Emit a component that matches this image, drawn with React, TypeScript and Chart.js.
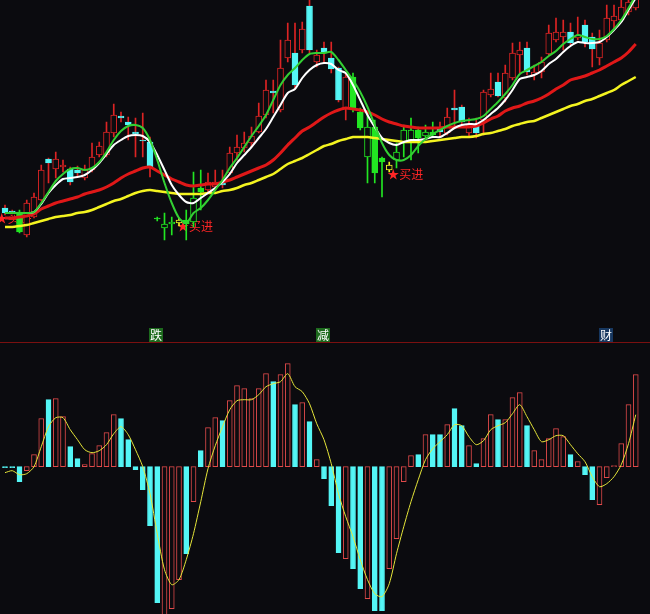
import React, { useEffect, useRef } from "react";
import { Chart, registerables } from "chart.js";

Chart.register(...registerables);

// ---------- data ----------
const days: string[] = Array.from({ length: 88 }, (_, i) => `D${i + 1}`);

const openP = [
  9.2, 8.9, 8.8, 6.5, 8.3, 10.0, 14.1, 13.1, 13.3, 13.1,
  13.0, 12.2, 13.0, 14.5, 14.5, 16.7, 18.4, 17.8, 16.8, 16.0,
  15.8, 8.2, 7.2, 7.6, 7.7, 8.0, 7.8, 11.2, 11.0, 11.3,
  11.7, 12.7, 14.7, 15.2, 15.7, 16.8, 18.5, 20.9, 19.0, 24.2,
  24.7, 25.0, 29.4, 23.8, 25.2, 24.2, 23.2, 19.2, 22.3, 18.8,
  14.3, 17.3, 14.2, 13.0, 14.0, 15.7, 16.0, 17.0, 16.4, 16.8,
  17.2, 16.7, 19.2, 19.3, 16.7, 17.4, 18.0, 20.5, 21.8, 20.2,
  22.2, 24.5, 25.2, 22.5, 22.8, 24.6, 26.0, 26.3, 26.8, 26.2,
  27.5, 26.3, 24.2, 26.0, 27.9, 28.0, 28.8, 29.2,
];
const closeP = [
  8.7, 8.8, 6.8, 9.7, 10.3, 13.0, 13.7, 14.1, 13.5, 11.8,
  12.7, 13.0, 14.3, 15.4, 16.8, 18.5, 18.2, 17.5, 16.6, 15.9,
  13.3, 8.1, 7.6, 7.8, 8.0, 7.6, 10.2, 10.8, 11.8, 11.8,
  11.5, 14.7, 15.3, 15.7, 16.4, 18.4, 21.0, 20.7, 23.2, 26.0,
  21.5, 27.1, 25.0, 24.5, 24.7, 23.1, 20.0, 22.3, 19.0, 17.2,
  17.3, 12.7, 13.8, 13.5, 14.8, 17.0, 17.0, 16.2, 16.8, 16.5,
  16.8, 18.3, 19.0, 17.8, 17.5, 16.7, 20.8, 21.1, 20.4, 22.7,
  24.7, 25.0, 22.8, 22.8, 23.8, 26.7, 26.8, 26.8, 25.7, 26.5,
  25.8, 25.1, 25.7, 28.2, 28.4, 29.3, 29.8, 30.8,
];
const highP = [
  9.5, 9.0, 9.0, 10.0, 10.7, 13.5, 14.2, 14.8, 14.0, 13.3,
  13.4, 13.5, 15.7, 15.8, 17.8, 19.6, 18.8, 18.3, 18.2, 18.7,
  16.3, 8.3, 8.7, 8.3, 8.2, 9.0, 12.8, 13.0, 12.7, 13.0,
  13.0, 15.3, 16.5, 16.8, 17.3, 19.7, 22.0, 22.0, 26.0, 27.7,
  27.7, 27.8, 30.0, 25.0, 25.8, 25.8, 23.3, 22.7, 22.7, 19.2,
  18.7, 18.0, 14.3, 13.8, 15.7, 17.5, 18.2, 17.3, 17.5, 17.8,
  17.8, 19.2, 21.0, 19.5, 18.2, 18.2, 21.0, 22.7, 22.7, 23.5,
  25.7, 25.8, 25.8, 23.5, 24.3, 27.5, 28.2, 28.0, 27.7, 28.3,
  28.0, 26.7, 27.0, 29.5, 29.5, 30.0, 30.5, 31.5,
];
const lowP = [
  8.5, 8.6, 6.7, 6.3, 8.2, 9.9, 11.7, 12.2, 12.8, 11.5,
  12.3, 12.0, 12.8, 14.3, 14.3, 16.3, 17.8, 16.0, 14.3, 14.3,
  12.3, 7.9, 6.0, 6.5, 7.4, 6.0, 7.3, 9.0, 10.7, 11.0,
  11.2, 12.5, 14.0, 14.8, 15.3, 16.7, 18.2, 18.7, 18.8, 23.8,
  21.2, 24.7, 24.7, 23.3, 23.7, 22.7, 19.8, 18.0, 18.8, 17.0,
  11.7, 11.7, 10.3, 12.8, 13.2, 14.3, 14.0, 14.7, 16.0, 16.3,
  16.3, 16.5, 17.3, 17.6, 16.4, 16.2, 16.5, 20.3, 20.3, 19.8,
  22.0, 22.7, 22.5, 22.0, 22.2, 24.5, 25.8, 25.0, 25.5, 26.0,
  25.3, 23.3, 23.5, 25.8, 27.0, 27.8, 28.5, 29.0,
];

const maWhite = [
  8.7, 8.7, 8.7, 8.7, 8.8, 9.6, 10.7, 11.5, 12.1, 12.2,
  12.3, 12.5, 13.0, 13.7, 14.6, 15.5, 16.0, 16.4, 16.5, 16.4,
  15.8, 14.5, 13.0, 11.5, 10.5, 9.8, 9.7, 10.2, 10.7, 11.2,
  11.8, 12.6, 13.7, 14.5, 15.3, 16.2, 17.1, 18.3, 19.5, 20.7,
  21.1, 22.2, 23.0, 23.5, 23.7, 23.6, 23.0, 22.7, 21.5, 20.0,
  18.5, 17.3, 16.2, 15.7, 15.5, 15.8, 16.0, 16.0, 16.1, 16.3,
  16.3, 16.7, 17.2, 17.5, 17.6, 17.6, 18.0, 18.6, 19.2, 20.0,
  21.0, 22.1, 22.3, 22.5, 22.9, 23.6, 24.1, 24.8, 25.4, 25.8,
  25.7, 25.7, 25.8, 26.3, 27.0, 27.8, 29.0, 30.2,
];
const maGreen = [
  8.7, 8.7, 8.7, 8.7, 8.8, 9.7, 10.8, 11.9, 12.6, 13.1,
  13.2, 13.0, 13.2, 13.8, 14.8, 16.0, 16.9, 17.4, 17.5, 17.2,
  16.0, 14.0, 11.7, 9.7, 8.2, 7.7, 8.7, 9.2, 10.0, 11.0,
  12.0, 13.2, 14.2, 15.3, 16.4, 17.4, 18.5, 20.0, 21.5, 22.5,
  23.2, 24.0, 24.6, 24.7, 24.7, 24.8, 24.0, 23.0, 22.0, 20.8,
  19.3, 17.5, 15.7, 14.5, 14.0, 14.0, 14.5, 15.4, 16.1, 16.6,
  17.0, 17.4, 17.7, 17.9, 18.0, 18.1, 18.4, 19.1, 19.8, 20.6,
  21.5, 22.6, 23.0, 23.4, 23.8, 24.4, 24.9, 25.6, 26.1, 26.5,
  26.3, 26.1, 26.1, 26.4, 27.1, 28.0, 29.2, 30.5,
];
const maRed = [
  8.2, 8.2, 8.3, 8.4, 8.6, 9.1, 9.4, 9.7, 9.9, 10.1,
  10.3, 10.6, 10.8, 11.0, 11.3, 11.7, 12.2, 12.6, 12.9, 13.2,
  13.3, 12.9, 12.5, 12.1, 11.8, 11.5, 11.4, 11.5, 11.6, 11.6,
  11.8, 12.0, 12.3, 12.6, 12.9, 13.2, 13.5, 14.0, 14.7, 15.5,
  16.2, 16.9, 17.3, 17.8, 18.3, 18.7, 19.0, 19.2, 19.1, 19.0,
  18.8, 18.5, 18.1, 17.8, 17.6, 17.4, 17.3, 17.2, 17.2, 17.2,
  17.2, 17.3, 17.3, 17.3, 17.3, 17.4, 17.7, 18.1, 18.4, 18.9,
  19.2, 19.4, 19.7, 19.9, 20.2, 20.6, 21.1, 21.5, 22.0, 22.2,
  22.4, 22.7, 23.0, 23.4, 23.8, 24.2, 24.8, 25.6,
];
const maYellow = [
  7.3, 7.3, 7.4, 7.5, 7.7, 7.9, 8.1, 8.3, 8.4, 8.5,
  8.7, 8.8, 9.0, 9.3, 9.6, 9.9, 10.1, 10.4, 10.7, 10.9,
  11.0, 10.9, 10.8, 10.7, 10.6, 10.6, 10.6, 10.6, 10.7, 10.7,
  10.9, 11.0, 11.2, 11.5, 11.7, 12.0, 12.3, 12.6, 13.1, 13.6,
  13.9, 14.2, 14.6, 15.0, 15.4, 15.6, 15.9, 16.1, 16.3, 16.3,
  16.3, 16.2, 16.1, 16.0, 15.9, 15.8, 15.8, 15.8, 15.8, 15.9,
  16.0, 16.1, 16.2, 16.3, 16.3, 16.4, 16.6, 16.7, 16.9, 17.1,
  17.4, 17.6, 17.8, 17.9, 18.2, 18.5, 18.8, 19.1, 19.4, 19.6,
  19.9, 20.1, 20.4, 20.7, 21.0, 21.5, 21.9, 22.3,
];

const oscBar = [
  -0.01, -0.01, -0.15, -0.04, 0.12, 0.48, 0.67, 0.68, 0.50, 0.20,
  0.08, 0.02, 0.13, 0.21, 0.34, 0.52, 0.48, 0.27, -0.03, -0.23,
  -0.59, -1.36, -1.50, -1.42, -1.13, -0.87, -0.35, 0.16, 0.39, 0.49,
  0.46, 0.66, 0.81, 0.78, 0.68, 0.78, 0.93, 0.85, 0.92, 1.03,
  0.62, 0.64, 0.45, 0.07, -0.12, -0.39, -0.86, -0.92, -1.02, -1.22,
  -1.32, -1.44, -1.44, -1.02, -0.72, -0.15, 0.11, 0.12, 0.32, 0.32,
  0.32, 0.42, 0.58, 0.41, 0.21, 0.03, 0.28, 0.52, 0.47, 0.47,
  0.69, 0.74, 0.41, 0.16, 0.07, 0.28, 0.38, 0.30, 0.12, 0.05,
  -0.08, -0.33, -0.38, -0.11, 0.01, 0.23, 0.62, 0.92,
];
const oscSignal = [
  -0.06, -0.04, -0.08, -0.07, 0.00, 0.20, 0.40, 0.49, 0.49, 0.37,
  0.27, 0.17, 0.14, 0.16, 0.22, 0.33, 0.40, 0.32, 0.17, 0.00,
  -0.27, -0.67, -1.03, -1.18, -1.13, -0.93, -0.67, -0.35, -0.02, 0.21,
  0.40, 0.57, 0.66, 0.67, 0.67, 0.72, 0.80, 0.83, 0.85, 0.93,
  0.80, 0.75, 0.63, 0.43, 0.27, 0.03, -0.27, -0.50, -0.70, -0.93,
  -1.13, -1.27, -1.30, -1.17, -0.87, -0.60, -0.35, -0.13, 0.07, 0.18,
  0.25, 0.32, 0.42, 0.41, 0.30, 0.22, 0.26, 0.37, 0.41, 0.44,
  0.53, 0.62, 0.50, 0.37, 0.25, 0.27, 0.31, 0.31, 0.22, 0.13,
  0.05, -0.10, -0.20, -0.17, -0.10, 0.02, 0.23, 0.52,
];

// candles painted in the "weak" zone (green) and buy-signal candles (yellow)
const greenZone = [2, 21, 22, 23, 25, 26, 27, 48, 49, 50, 51, 52, 54, 55, 56, 57, 58, 59];
const yellowZone = [24, 53];

// buy signals (bar index, price level of label); -1 = the day just before the window
const buyIdx = [-1, 24, 53];
const buyPrice = [8.2, 7.4, 12.6];

// event marks above the lower panel
const markIdx = [21, 44, 83];
const markText = ["跌", "减", "财"];
const markKind = ["g", "g", "b"];

// ---------- styles ----------
const BG = "#0b0b0f";
const RED = "#dc2424";
const CYAN = "#54f6f6";
const GREEN = "#22e622";
const YEL = "#f2f226";
const OSC_RED = "#e04a4a";

export default function App() {
  const ref = useRef<HTMLCanvasElement | null>(null);

  useEffect(() => {
    document.body.style.margin = "0";
    document.body.style.background = BG;
    const canvas = ref.current!;
    const up = openP.map((o, i) => closeP[i] >= o);
    const tone = days.map((_, i) =>
      yellowZone.includes(i) ? "Y" : greenZone.includes(i) ? "G" : "N"
    );
    const bodyBg = tone.map((t, i) =>
      t === "Y" ? BG : t === "G" ? (up[i] ? BG : GREEN) : up[i] ? BG : CYAN
    );
    const bodyBorder = tone.map((t, i) =>
      t === "Y" ? YEL : t === "G" ? GREEN : up[i] ? RED : CYAN
    );
    const wickColor = tone.map((t) => (t === "Y" ? YEL : t === "G" ? GREEN : RED));
    const oscBg = up.map((u) => (u ? BG : CYAN));
    const oscBorder = up.map((u) => (u ? OSC_RED : CYAN));

    const overlay = {
      id: "overlay",
      beforeDatasetsDraw(chart: any) {
        const { ctx, scales } = chart;
        const xs = scales.x;
        const ys = scales.y;
        ctx.save();
        // panel separator
        ctx.strokeStyle = "#7a1010";
        ctx.lineWidth = 1;
        ctx.beginPath();
        ctx.moveTo(0, 342.5);
        ctx.lineTo(chart.width, 342.5);
        ctx.stroke();
        // buy signals
        ctx.font = '12px "Noto Sans CJK SC"';
        ctx.fillStyle = "#ff2626";
        ctx.textAlign = "left";
        ctx.textBaseline = "middle";
        buyIdx.forEach((idx, k) => {
          ctx.fillText("★买进", xs.getPixelForValue(idx) - 2, ys.getPixelForValue(buyPrice[k]));
        });
        // event marks
        ctx.font = '12px "Noto Sans CJK SC"';
        ctx.textAlign = "center";
        markIdx.forEach((idx, k) => {
          const cx = Math.round(xs.getPixelForValue(idx)) - 1;
          ctx.fillStyle = markKind[k] === "g" ? "#1d6a1d" : "#17375f";
          ctx.fillRect(cx - 7, 328, 14, 14);
          ctx.fillStyle = "#ffffff";
          ctx.fillText(markText[k], cx, 335.5);
        });
        ctx.restore();
      },
    };

    const line = (data: number[], color: string, width: number, axis = "y") => ({
      type: "line" as const,
      data,
      yAxisID: axis,
      borderColor: color,
      borderWidth: width,
      pointRadius: 0,
      tension: 0.25,
      fill: false,
    });

    const chart = new Chart(canvas, {
      type: "bar",
      data: {
        labels: days,
        datasets: [
          line(oscSignal, "#e6e63a", 1, "y2") as any,
          line(maGreen, "#33cf33", 2),
          line(maWhite, "#ffffff", 2),
          line(maRed, "#e01818", 3),
          line(maYellow, "#f4f420", 2.5),
          {
            type: "bar",
            data: openP.map((o, i) => [o, closeP[i]]),
            yAxisID: "y",
            backgroundColor: bodyBg,
            borderColor: bodyBorder,
            borderWidth: 1,
            borderSkipped: false,
            barThickness: 6,
            grouped: false,
          },
          {
            type: "bar",
            data: lowP.map((l, i) => [l, highP[i]]),
            yAxisID: "y",
            backgroundColor: wickColor,
            borderWidth: 0,
            barThickness: 1,
            grouped: false,
          },
          {
            type: "bar",
            data: oscBar,
            yAxisID: "y2",
            backgroundColor: oscBg,
            borderColor: oscBorder,
            borderWidth: 1,
            borderSkipped: false,
            barThickness: 5,
            grouped: false,
          },
        ] as any,
      },
      options: {
        responsive: false,
        animation: false,
        events: [],
        layout: { padding: { left: 1.375, right: 10.625, top: 0, bottom: 0 } },
        plugins: { legend: { display: false }, tooltip: { enabled: false } },
        scales: {
          x: { type: "category", display: false, offset: true, grid: { display: false } },
          y: { display: false, min: -31.4, max: 30 },
          y2: { display: false, min: -1.473, max: 4.667 },
        },
      },
      plugins: [overlay],
    });
    return () => chart.destroy();
  }, []);

  return (
    <div style={{ width: 650, height: 614, background: BG }}>
      <canvas ref={ref} width={650} height={614} style={{ display: "block" }} />
    </div>
  );
}
